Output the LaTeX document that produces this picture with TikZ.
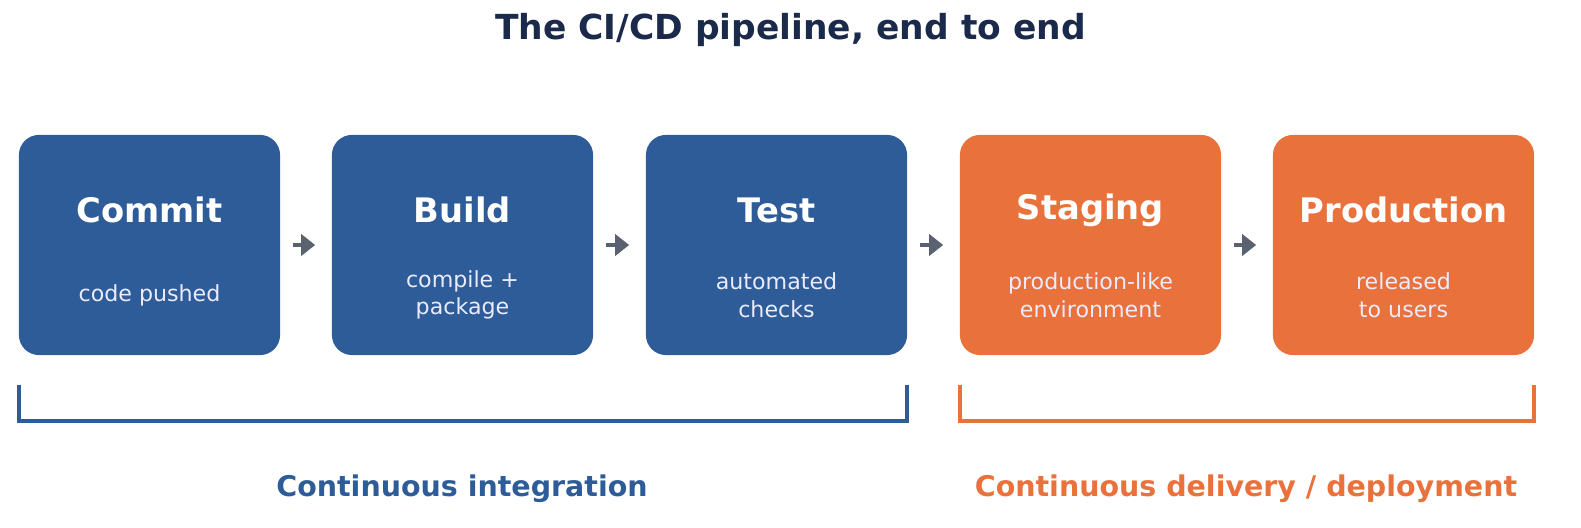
\documentclass[tikz,border=0pt]{standalone}
\usepackage{fontspec}
\setmainfont{DejaVu Sans}
\usetikzlibrary{arrows.meta}
\definecolor{cblue}{HTML}{2D5C98}
\definecolor{corange}{HTML}{E8713C}
\definecolor{ctitle}{HTML}{1B2A4A}
\definecolor{carrow}{HTML}{5A6170}
\begin{document}
\begin{tikzpicture}[x=0.01cm,y=-0.01cm,
 box/.style={rounded corners=0.2cm,minimum width=2.61cm,minimum height=2.2cm,inner sep=0pt},
 head/.style={text=white,font=\fontsize{9.6pt}{11pt}\selectfont\bfseries},
 sub/.style={text=white!92!blue,font=\fontsize{6.3pt}{7.9pt}\selectfont,align=center},
 arr/.style={carrow,line width=1.4pt,-{Triangle[length=4pt,width=6pt]}},
 brk/.style={line width=0.9pt}]
\useasboundingbox (0,0) rectangle (1581,528);
\node[text=ctitle,font=\fontsize{9.8pt}{12pt}\selectfont\bfseries] (title) at (790.5,30) {The CI/CD pipeline, end to end};
\foreach \n/\x/\c/\h/\s in {b1/149.5/cblue/Commit/code pushed, b2/462.5/cblue/Build/compile +\\package, b3/776.5/cblue/Test/automated\\checks, b4/1090.5/corange/Staging/production-like\\environment, b5/1403.5/corange/Production/released\\to users}{
 \node[box,fill=\c] (\n) at (\x,245) {};
 \node[head] (\n h) at (\x,210) {\h};
 \node[sub] (\n s) at (\x,295) {\s};
}
\draw[arr] ([xshift=0.12cm]b1.east) -- ([xshift=-0.16cm]b2.west);
\draw[arr] ([xshift=0.12cm]b2.east) -- ([xshift=-0.16cm]b3.west);
\draw[arr] ([xshift=0.12cm]b3.east) -- ([xshift=-0.16cm]b4.west);
\draw[arr] ([xshift=0.12cm]b4.east) -- ([xshift=-0.16cm]b5.west);
\coordinate (ci1) at (19,385); \coordinate (ci2) at (907,385);
\coordinate (cd1) at (960,385); \coordinate (cd2) at (1534,385);
\draw[brk,cblue] (ci1) -- (19,421) -- (907,421) -- (ci2);
\draw[brk,corange] (cd1) -- (960,421) -- (1534,421) -- (cd2);
\node[text=cblue,font=\fontsize{8.1pt}{10pt}\selectfont\bfseries] (ci) at (462,489) {Continuous integration};
\node[text=corange,font=\fontsize{8.1pt}{10pt}\selectfont\bfseries] (cd) at (1246,489) {Continuous delivery / deployment};
\end{tikzpicture}
\end{document}
